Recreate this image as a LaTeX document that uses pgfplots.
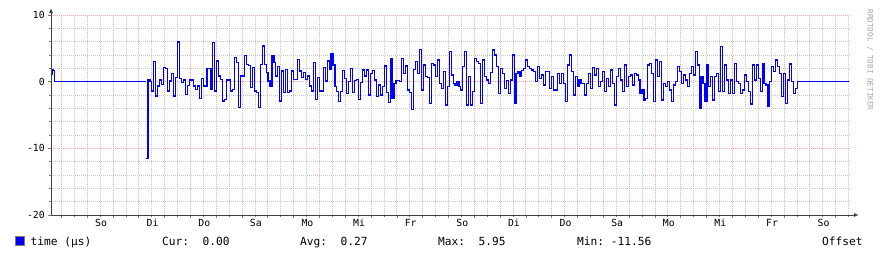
\documentclass[border=0pt]{standalone}
\usepackage{pgfplots}
\pgfplotsset{compat=1.18}
\usepackage{pgfplotstable}
\usepackage{fontspec}
\usetikzlibrary{arrows.meta}
\newfontfamily\dvm{DejaVu Sans Mono}
\definecolor{mgridc}{RGB}{255,165,165}
\definecolor{gridc}{RGB}{200,200,200}
\definecolor{axisc}{RGB}{64,64,64}
\definecolor{tracec}{RGB}{0,0,255}

\pgfplotstableread{
v
-11.56
0.25
0
-1.4
3.0
-2.15
-0.65
0.25
-0.4
2.1
1.95
-1.4
0.1
1.25
-2.15
0.6
5.95
0.45
-0.15
0.25
-1.9
-0.55
0.25
0.25
-0.65
-1.15
-0.65
-2.55
0.45
-0.65
-0.75
1.95
1.95
-1.15
5.85
-1.4
3.1
0.85
0.35
-2.9
-2.65
0.25
0.25
-1.4
-1.15
3.6
2.85
-3.9
0.85
0.85
3.95
2.6
2.45
-0.9
2.1
-1.4
-1.65
-3.9
2.6
5.35
2.6
1.35
0.1
-0.65
3.95
2.85
0.85
2.25
-2.9
1.6
-1.65
1.85
-1.65
-1.4
1.6
0.35
0.35
3.35
1.6
0.6
1.35
0.35
0.85
-0.65
-1.4
2.85
-2.65
0.6
-1.4
-1.4
2.1
0.1
3.1
1.85
4.25
2.5
-0.75
-1.5
-3.0
-1.5
1.65
0.5
-1.75
0
2.0
-1.65
0.15
0.35
-2.65
-0.15
1.75
0.85
1.75
-2.0
1.25
1.65
0.25
-2.25
-0.5
-2.0
-0.75
2.35
-1.65
-3.15
3.5
-2.5
-0.25
0.15
0.15
0
3.5
1.25
2.35
-1.25
-1.65
-4.15
1.85
3.0
1.25
4.85
-1.25
2.5
0.75
0.65
-3.25
2.75
2.5
0.75
3.25
-0.25
-1.0
1.5
-3.5
-0.75
4.5
1.0
-0.25
-0.5
0
-0.75
-1.25
2.25
4.5
-3.5
0.75
-3.5
-1.5
3.5
3.0
2.75
-3.25
3.25
0.75
0.25
-0.25
1.35
4.75
4.0
2.25
-1.75
2.0
1.25
-1.0
0.15
-1.75
0.25
4.0
-3.25
1.25
1.5
0.75
1.65
2.0
3.25
2.25
2.0
1.75
1.5
0
2.25
0.5
1.0
-0.5
1.5
1.5
-1.0
0.75
-1.25
-1.25
1.25
-0.25
1.25
-0.25
-3.0
2.5
4.0
1.5
-2.0
0.75
-0.75
0.25
-0.25
-0.25
-2.0
-0.25
1.25
-1.0
2.15
1.0
2.0
-0.75
0
1.5
-1.5
0.5
-0.75
1.75
-0.25
-3.5
0.75
2.0
0.25
-1.5
2.5
-0.75
0.75
1.0
-0.5
1.25
1.0
0.25
-1.75
-1.25
-2.75
-2.5
2.5
2.75
1.25
-3.0
3.25
0.75
3.0
-2.75
-0.25
-0.75
0
-1.25
-3.0
-0.5
0
2.25
1.5
-0.25
1.0
0.25
-0.75
1.25
2.25
1.0
4.5
2.5
-4.0
0.75
-0.25
-3.0
2.5
-0.75
0.75
-2.75
0.75
1.25
-1.5
5.25
-1.5
2.5
0.25
-1.75
0.25
-1.75
2.75
0
-0.25
-1.75
-1.25
1.0
0
-1.5
-3.35
2.5
0.25
2.5
0.5
-1.5
2.75
-0.25
-0.5
-3.75
0
2.25
1.5
3.25
2.25
1.25
-2.25
1.25
-3.25
0.25
2.65
0
-1.75
-1.0
0
}\traceT

\begin{document}
\begin{tikzpicture}[x=1pt,y=1pt]
\useasboundingbox (0,0) rectangle (881,255);
\fill[white] (0,0) rectangle (881,255);
\begin{axis}[
  at={(51pt,40pt)}, anchor=south west,
  width=800pt, height=200pt, scale only axis,
  xmin=0, xmax=31, ymin=-20, ymax=10,
  axis lines=left,
  axis line style={draw=none},
  xtick={0.4,1.4,...,30.4},
  minor xtick={0.9,1.9,...,30.9},
  xticklabels={},
  extra x ticks={1.9,3.9,...,29.9},
  extra x tick labels={So,Di,Do,Sa,Mo,Mi,Fr,So,Di,Do,Sa,Mo,Mi,Fr,So},
  extra x tick style={grid=none, major tick length=0pt},
  ytick={-20,-10,0,10},
  yticklabels={-20,-10,0,10},
  minor ytick={-18,-16,...,8},
  grid=both,
  major grid style={draw=mgridc, line width=0.7pt, dash pattern=on 1pt off 1pt},
  minor grid style={draw=gridc, line width=0.6pt, dash pattern=on 1pt off 1pt},
  tick align=outside,
  major tick length=3pt, minor tick length=2pt,
  tick style={draw=axisc!70, line width=0.6pt},
  xticklabel style={font=\dvm\fontsize{9.8}{10}\selectfont, inner sep=0pt, yshift=-4pt, xshift=1pt},
  yticklabel style={font=\dvm\fontsize{9.8}{10}\selectfont, inner sep=0pt, xshift=-3pt},
  clip=false,
]
\addplot[tracec, line width=1.1pt, const plot mark left, mark=none]
  coordinates {(0,1.1) (0.039,1.75) (0.128,1.75)};
\addplot[tracec, line width=1.3pt, const plot mark left, mark=none]
  coordinates {(0.128,1.75) (0.128,0) (3.682,0)};
\addplot[tracec, line width=1.1pt, const plot mark left, mark=none]
  table[x expr={3.682+\coordindex*0.076266}, y=v] {\traceT};
\addplot[tracec, line width=1.3pt, mark=none]
  coordinates {(28.926,0) (30.93,0)};
\draw[axisc, line width=1pt, -{Latex[length=5pt,width=4pt]}]
  ([yshift=-0.5pt]rel axis cs:0,0) -- ([yshift=7pt]rel axis cs:0,1);
\draw[axisc, line width=1pt, -{Latex[length=5pt,width=4pt]}]
  ([xshift=-0.5pt]rel axis cs:0,0) -- ([xshift=8pt]rel axis cs:1,0);
\end{axis}
\draw[draw=axisc!70, fill=tracec, line width=0.8pt] (15,10) rectangle (24,19);
\begin{scope}[every node/.style={inner sep=0pt, anchor=base west, font=\dvm\fontsize{11.2}{12}\selectfont}]
\node at (30.5,10) {time (µs)};
\node at (162,10) {Cur:\ \ 0.00};
\node at (300,10) {Avg:\ \ 0.27};
\node at (438,10) {Max:\ \ 5.95};
\node at (577,10) {Min:\ -11.56};
\node at (822,10) {Offset};
\end{scope}
\node[rotate=-90, inner sep=0pt, font=\dvm\fontsize{7.6}{8}\selectfont, text=gray!70] at (870,195) {RRDTOOL / TOBI OETIKER};
\end{tikzpicture}
\end{document}
